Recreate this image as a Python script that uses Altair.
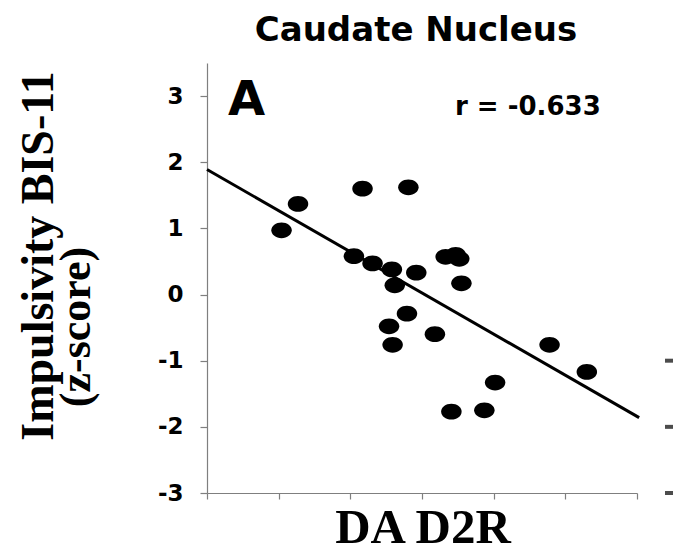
import altair as alt
import pandas as pd

# ---- text content ----
title_text = ["Caudate Nucleus"]
panel_letter = ["A"]
r_text = ["r = -0.633"]
y_title_1 = ["Impulsivity BIS-11"]
y_title_2 = ["(z-score)"]
x_title = ["DA D2R"]

# ---- data ----
d2r = [1.04, 1.27, 2.17, 2.81, 2.05, 2.31, 2.58, 2.62, 2.92, 3.33, 3.47,
       3.52, 3.55, 2.79, 2.54, 2.59, 3.18, 4.02, 3.41, 3.87, 4.78, 5.30]
bis = [0.97, 1.37, 1.60, 1.62, 0.58, 0.47, 0.38, 0.14, 0.33, 0.57, 0.60,
       0.54, 0.17, -0.29, -0.48, -0.76, -0.60, -1.33, -1.77, -1.75, -0.76, -1.17]

fit_x = [0.0, 6.03]
fit_y = [1.89, -1.86]

y_ticks = [-3, -2, -1, 0, 1, 2, 3]
x_ticks = [0, 1, 2, 3, 4, 5, 6]
neighbor_ticks = [-1, -2, -3]   # edge of the next panel's labels

pts = pd.DataFrame({"d2r": d2r, "bis": bis})
fit = pd.DataFrame({"d2r": fit_x, "bis": fit_y})
nb = pd.DataFrame({"bis": neighbor_ticks})

AXIS_GRAY = "#7f7f7f"

x_enc = alt.X(
    "d2r:Q",
    title=None,
    scale=alt.Scale(domain=[0, 6], nice=False, zero=False),
    axis=alt.Axis(values=x_ticks, labels=False, tickSize=6, grid=False,
                  domainColor=AXIS_GRAY, tickColor=AXIS_GRAY,
                  domainWidth=1.2, tickWidth=1.2),
)
y_enc = alt.Y(
    "bis:Q",
    title=None,
    scale=alt.Scale(domain=[-3, 3.5], nice=False, zero=False),
    axis=alt.Axis(values=y_ticks, tickSize=7, grid=False, labelPadding=17,
                  labelExpr="datum.value < 0 ? '-' + abs(datum.value) : '' + datum.value",
                  labelFont="DejaVu Sans", labelFontWeight="bold",
                  labelFontSize=23, labelColor="black",
                  domainColor=AXIS_GRAY, tickColor=AXIS_GRAY,
                  domainWidth=1.2, tickWidth=1.2),
)

ellipse = "M-1,0A1,0.77 0 1,0 1,0A1,0.77 0 1,0 -1,0Z"

points = alt.Chart(pts).mark_point(
    shape=ellipse, filled=True, color="black", size=420, opacity=1, strokeWidth=0
).encode(x=x_enc, y=y_enc)

line = alt.Chart(fit).mark_line(color="black", strokeWidth=3, clip=False).encode(
    x=x_enc, y=y_enc
)

def label(values, x, y, font, size, align="left", angle=0):
    df = pd.DataFrame({"t": values})
    kw = dict(font=font, fontSize=size, fontWeight="bold", color="black",
              align=align, baseline="alphabetic")
    if angle:
        kw["angle"] = angle
    return alt.Chart(df).mark_text(**kw).encode(
        text="t:N", x=alt.value(x), y=alt.value(y)
    )

title_mark = label(title_text, 209, -22, "DejaVu Sans", 34, align="center")
letter_mark = label(panel_letter, 21, 52, "DejaVu Sans", 48)
r_mark = label(r_text, 248, 52, "DejaVu Sans", 26)
yt1 = label(y_title_1, -154, 193, "Liberation Serif", 46, align="center", angle=270)
yt2 = label(y_title_2, -117, 264, "Liberation Serif", 44, align="center", angle=270)
xt = label(x_title, 216, 480, "Liberation Serif", 49, align="center")

neighbor = alt.Chart(nb).mark_tick(
    color="black", size=8, thickness=4, orient="horizontal"
).encode(x=alt.value(462), y=y_enc)

chart = alt.layer(
    line, points, neighbor, title_mark, letter_mark, r_mark, yt1, yt2, xt
).properties(
    width=430,
    height=430,
    autosize=alt.AutoSizeParams(type="none"),
    padding={"left": 199, "top": 55, "right": 36, "bottom": 64},
).configure_view(stroke=None)

chart.save("out.html", embed_options={"renderer": "svg", "actions": False})
